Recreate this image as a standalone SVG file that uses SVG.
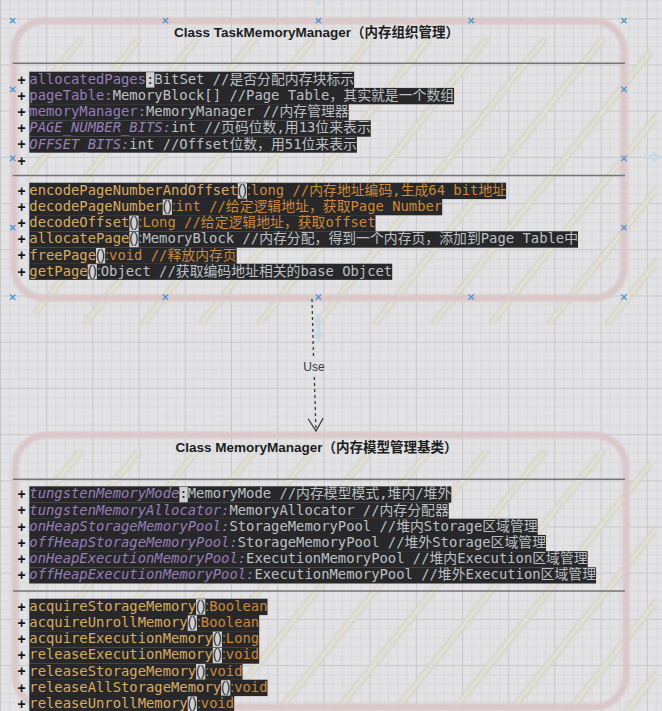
<svg xmlns="http://www.w3.org/2000/svg" width="662" height="711" viewBox="0 0 662 711">
<defs>
<style>
.code{font-family:"DejaVu Sans Mono","Noto Sans CJK SC",monospace;font-size:13.85px;white-space:pre}
.pc{font-family:"Liberation Sans",Arial,sans-serif}
.f{fill:#947fb8}
.fi{fill:#947fb8;font-style:italic}
.t{fill:#bcc0c4}
.m{fill:#d9ab62}
.r{fill:#cc893b}
.d{fill:#2a2a2a}
.bg{fill:#28282a}
.hl{fill:#d0d0d2}
.plus{font-family:"Liberation Sans",Arial,sans-serif;font-size:14px;font-weight:bold;fill:#151515;text-anchor:middle}
.title{font-family:"Liberation Sans",Arial,"Noto Sans CJK SC",sans-serif;font-size:13.5px;font-weight:bold;fill:#1c1c1c;text-anchor:middle}
.sep{stroke:#767678;stroke-width:1.5;fill:none}
.border{fill:none;stroke:#dbc8c9;stroke-width:7}
.hatchO{fill:none;stroke:#d1cec6;stroke-width:6.5;stroke-linecap:round}
.hatchI{fill:none;stroke:#e7e5d6;stroke-width:3.2;stroke-linecap:round}
.handle{fill:none;stroke:#4f97d2;stroke-width:1.4}
.hint{fill:#c9d9e6}
.edge{fill:none;stroke:#3a3a3a;stroke-width:1.3;stroke-dasharray:3 3}
.lbl{font-family:"Liberation Sans",Arial,sans-serif;font-size:12px;fill:#3a3a3a;text-anchor:middle}
</style>
<pattern id="grid" width="46.2" height="46.2" patternUnits="userSpaceOnUse" x="0" y="18.3">
<path d="M9.74 0V46.2M18.98 0V46.2M28.22 0V46.2M37.46 0V46.2M0 9.74H46.2M0 18.98H46.2M0 28.22H46.2M0 37.46H46.2" stroke="#d7d7da" stroke-width="1"/>
<path d="M0.5 0V46.2M0 0.5H46.2" stroke="#c7c7cb" stroke-width="1"/>
</pattern>
<clipPath id="clipTop"><rect x="28" y="38" width="628" height="286" rx="28"/></clipPath>
<clipPath id="clipBot"><rect x="28" y="450" width="628" height="300" rx="28"/></clipPath>
<filter id="soft" x="-5%" y="-5%" width="110%" height="110%"><feGaussianBlur stdDeviation="0.9"/></filter>
<path id="xm" d="M-2.6 -2.6L2.6 2.6M-2.6 2.6L2.6 -2.6"/>
<marker id="openArrow" markerUnits="userSpaceOnUse" markerWidth="16" markerHeight="17" refX="13" refY="8" orient="auto">
<path d="M0.5 0.5L13 8L0.5 15.5" fill="none" stroke="#3a3a3a" stroke-width="1.3"/>
</marker>
</defs>

<rect width="662" height="711" fill="#e3e3e5"/>
<rect width="662" height="711" fill="url(#grid)"/>

<g id="node-taskmemorymanager">
<g filter="url(#soft)">
<g clip-path="url(#clipTop)">
<path class="hatchO" d="M80 40L-145.6 322M138 40L-87.6 322M196 40L-29.6 322M254 40L28.4 322M312 40L86.4 322M370 40L144.4 322M428 40L202.4 322M486 40L260.4 322M544 40L318.4 322M602 40L376.4 322M660 40L434.4 322M718 40L492.4 322M776 40L550.4 322M834 40L608.4 322"/>
<path class="hatchI" d="M80 40L-145.6 322M138 40L-87.6 322M196 40L-29.6 322M254 40L28.4 322M312 40L86.4 322M370 40L144.4 322M428 40L202.4 322M486 40L260.4 322M544 40L318.4 322M602 40L376.4 322M660 40L434.4 322M718 40L492.4 322M776 40L550.4 322M834 40L608.4 322"/>
</g>
<rect class="border" x="14" y="21" width="610" height="277" rx="30"/>
</g>
<text class="title" x="316.5" y="37.3">Class TaskMemoryManager（内存组织管理）</text>
<path class="sep" d="M12.7 63.3H625M12.7 175.5H625"/>

<rect class="bg" x="29.3" y="71.7" width="324.8" height="16.4"/>
<rect class="bg" x="29.3" y="87.9" width="424.8" height="16.4"/>
<rect class="bg" x="29.3" y="104.1" width="319.4" height="16.4"/>
<rect class="bg" x="29.3" y="120.3" width="341.45" height="16.4"/>
<rect class="bg" x="29.3" y="136.5" width="327.6" height="16.2"/>
<rect class="hl" x="146.04" y="72.2" width="8.34" height="15.4"/>
<text class="code" x="29.3" y="83.8" textLength="324.8" lengthAdjust="spacing"><tspan class="f">allocatedPages</tspan><tspan class="d">:</tspan><tspan class="t">BitSet //是否分配内存块标示</tspan></text>
<text class="code" x="29.3" y="100.0" textLength="424.8" lengthAdjust="spacing"><tspan class="f">pageTable:</tspan><tspan class="t">MemoryBlock[] //Page Table，其实就是一个数组</tspan></text>
<text class="code" x="29.3" y="116.2" textLength="319.4" lengthAdjust="spacing"><tspan class="f">memoryManager:</tspan><tspan class="t">MemoryManager //内存管理器</tspan></text>
<text class="code" x="29.3" y="132.4" textLength="341.45" lengthAdjust="spacing"><tspan class="fi">PAGE_NUMBER_BITS:</tspan><tspan class="t">int //页码位数,用13位来表示</tspan></text>
<text class="code" x="29.3" y="148.6" textLength="327.6" lengthAdjust="spacing"><tspan class="fi">OFFSET_BITS:</tspan><tspan class="t">int //Offset位数，用51位来表示</tspan></text>
<text class="plus" x="21.7" y="84.6">+</text>
<text class="plus" x="21.7" y="100.8">+</text>
<text class="plus" x="21.7" y="117.0">+</text>
<text class="plus" x="21.7" y="133.2">+</text>
<text class="plus" x="21.7" y="149.4">+</text>
<text class="plus" x="21.7" y="165.6">+</text>

<rect class="bg" x="29.3" y="182.7" width="476.8" height="16.4"/>
<rect class="bg" x="29.3" y="198.9" width="412.9" height="16.4"/>
<rect class="bg" x="29.3" y="215.1" width="346.2" height="16.4"/>
<rect class="bg" x="29.3" y="231.3" width="548.7" height="16.4"/>
<rect class="bg" x="29.3" y="247.5" width="207.4" height="16.4"/>
<rect class="bg" x="29.3" y="263.7" width="362.9" height="16.2"/>
<rect class="hl" x="237.76" y="183.2" width="9.22" height="15.4"/>
<rect class="hl" x="162.71" y="199.4" width="9.22" height="15.4"/>
<rect class="hl" x="129.36" y="215.6" width="9.22" height="15.4"/>
<rect class="hl" x="129.36" y="231.8" width="9.22" height="15.4"/>
<rect class="hl" x="95.97" y="248.0" width="9.22" height="15.4"/>
<rect class="hl" x="87.67" y="264.2" width="9.22" height="15.2"/>
<text class="code" x="29.3" y="194.8" textLength="476.8" lengthAdjust="spacing"><tspan class="m">encodePageNumberAndOffset</tspan><tspan class="pc d">()</tspan><tspan class="pc r">:</tspan><tspan class="r">long //内存地址编码,生成64 bit地址</tspan></text>
<text class="code" x="29.3" y="211.0" textLength="412.9" lengthAdjust="spacing"><tspan class="m">decodePageNumber</tspan><tspan class="pc d">()</tspan><tspan class="pc r">:</tspan><tspan class="r">int //给定逻辑地址，获取Page Number</tspan></text>
<text class="code" x="29.3" y="227.2" textLength="346.2" lengthAdjust="spacing"><tspan class="m">decodeOffset</tspan><tspan class="pc d">()</tspan><tspan class="pc r">:</tspan><tspan class="r">Long //给定逻辑地址，获取offset</tspan></text>
<text class="code" x="29.3" y="243.4" textLength="548.7" lengthAdjust="spacing"><tspan class="m">allocatePage</tspan><tspan class="pc d">()</tspan><tspan class="pc t">:</tspan><tspan class="t">MemoryBlock //内存分配，得到一个内存页，添加到Page Table中</tspan></text>
<text class="code" x="29.3" y="259.6" textLength="207.4" lengthAdjust="spacing"><tspan class="m">freePage</tspan><tspan class="pc d">()</tspan><tspan class="pc r">:</tspan><tspan class="r">void //释放内存页</tspan></text>
<text class="code" x="29.3" y="275.8" textLength="362.9" lengthAdjust="spacing"><tspan class="m">getPage</tspan><tspan class="pc d">()</tspan><tspan class="pc t">:</tspan><tspan class="t">Object //获取编码地址相关的base Objcet</tspan></text>
<text class="plus" x="21.7" y="195.6">+</text>
<text class="plus" x="21.7" y="211.8">+</text>
<text class="plus" x="21.7" y="228.0">+</text>
<text class="plus" x="21.7" y="244.2">+</text>
<text class="plus" x="21.7" y="260.4">+</text>
<text class="plus" x="21.7" y="276.6">+</text>
</g>

<g id="node-memorymanager">
<g filter="url(#soft)">
<g clip-path="url(#clipBot)">
<path class="hatchO" d="M80 452L-150.4 740M138 452L-92.4 740M196 452L-34.4 740M254 452L23.6 740M312 452L81.6 740M370 452L139.6 740M428 452L197.6 740M486 452L255.6 740M544 452L313.6 740M602 452L371.6 740M660 452L429.6 740M718 452L487.6 740M776 452L545.6 740M834 452L603.6 740"/>
<path class="hatchI" d="M80 452L-150.4 740M138 452L-92.4 740M196 452L-34.4 740M254 452L23.6 740M312 452L81.6 740M370 452L139.6 740M428 452L197.6 740M486 452L255.6 740M544 452L313.6 740M602 452L371.6 740M660 452L429.6 740M718 452L487.6 740M776 452L545.6 740M834 452L603.6 740"/>
</g>
<rect class="border" x="15" y="435" width="611" height="272" rx="32"/>
</g>
<text class="title" x="316.5" y="452.3">Class MemoryManager（内存模型管理基类）</text>
<path class="sep" d="M13 479.3H625M13 591H625"/>

<rect class="bg" x="29.3" y="486.3" width="422.0" height="16.4"/>
<rect class="bg" x="29.3" y="502.5" width="419.46" height="16.4"/>
<rect class="bg" x="29.3" y="518.7" width="508.36" height="16.4"/>
<rect class="bg" x="29.3" y="534.9" width="516.7" height="16.4"/>
<rect class="bg" x="29.3" y="551.1" width="558.39" height="16.4"/>
<rect class="bg" x="29.3" y="567.3" width="566.73" height="16.2"/>
<rect class="hl" x="179.39" y="486.8" width="8.34" height="15.4"/>
<text class="code" x="29.3" y="498.4" textLength="422.0" lengthAdjust="spacing"><tspan class="fi">tungstenMemoryMode</tspan><tspan class="d">:</tspan><tspan class="t">MemoryMode //内存模型模式,堆内/堆外</tspan></text>
<text class="code" x="29.3" y="514.6" textLength="419.46" lengthAdjust="spacing"><tspan class="fi">tungstenMemoryAllocator:</tspan><tspan class="t">MemoryAllocator //内存分配器</tspan></text>
<text class="code" x="29.3" y="530.8" textLength="508.36" lengthAdjust="spacing"><tspan class="fi">onHeapStorageMemoryPool:</tspan><tspan class="t">StorageMemoryPool //堆内Storage区域管理</tspan></text>
<text class="code" x="29.3" y="547.0" textLength="516.7" lengthAdjust="spacing"><tspan class="fi">offHeapStorageMemoryPool:</tspan><tspan class="t">StorageMemoryPool //堆外Storage区域管理</tspan></text>
<text class="code" x="29.3" y="563.2" textLength="558.39" lengthAdjust="spacing"><tspan class="fi">onHeapExecutionMemoryPool:</tspan><tspan class="t">ExecutionMemoryPool //堆内Execution区域管理</tspan></text>
<text class="code" x="29.3" y="579.4" textLength="566.73" lengthAdjust="spacing"><tspan class="fi">offHeapExecutionMemoryPool:</tspan><tspan class="t">ExecutionMemoryPool //堆外Execution区域管理</tspan></text>
<text class="plus" x="21.7" y="499.2">+</text>
<text class="plus" x="21.7" y="515.4">+</text>
<text class="plus" x="21.7" y="531.6">+</text>
<text class="plus" x="21.7" y="547.8">+</text>
<text class="plus" x="21.7" y="564.0">+</text>
<text class="plus" x="21.7" y="580.2">+</text>

<rect class="bg" x="29.3" y="598.7" width="238.2" height="16.4"/>
<rect class="bg" x="29.3" y="614.9" width="229.87" height="16.4"/>
<rect class="bg" x="29.3" y="631.1" width="229.87" height="16.4"/>
<rect class="bg" x="29.3" y="647.3" width="229.87" height="16.4"/>
<rect class="bg" x="29.3" y="663.5" width="213.2" height="16.4"/>
<rect class="bg" x="29.3" y="679.7" width="238.2" height="16.4"/>
<rect class="bg" x="29.3" y="695.9" width="204.85" height="16.4"/>
<rect class="hl" x="196.07" y="599.2" width="9.22" height="15.4"/>
<rect class="hl" x="187.73" y="615.4" width="9.22" height="15.4"/>
<rect class="hl" x="212.75" y="631.6" width="9.22" height="15.4"/>
<rect class="hl" x="212.75" y="647.8" width="9.22" height="15.4"/>
<rect class="hl" x="196.07" y="664.0" width="9.22" height="15.4"/>
<rect class="hl" x="221.08" y="680.2" width="9.22" height="15.4"/>
<rect class="hl" x="187.73" y="696.4" width="9.22" height="15.4"/>
<text class="code" x="29.3" y="610.8" textLength="238.2" lengthAdjust="spacing"><tspan class="m">acquireStorageMemory</tspan><tspan class="pc d">()</tspan><tspan class="pc r">:</tspan><tspan class="r">Boolean</tspan></text>
<text class="code" x="29.3" y="627.0" textLength="229.87" lengthAdjust="spacing"><tspan class="m">acquireUnrollMemory</tspan><tspan class="pc d">()</tspan><tspan class="pc r">:</tspan><tspan class="r">Boolean</tspan></text>
<text class="code" x="29.3" y="643.2" textLength="229.87" lengthAdjust="spacing"><tspan class="m">acquireExecutionMemory</tspan><tspan class="pc d">()</tspan><tspan class="pc r">:</tspan><tspan class="r">Long</tspan></text>
<text class="code" x="29.3" y="659.4" textLength="229.87" lengthAdjust="spacing"><tspan class="m">releaseExecutionMemory</tspan><tspan class="pc d">()</tspan><tspan class="pc r">:</tspan><tspan class="r">void</tspan></text>
<text class="code" x="29.3" y="675.6" textLength="213.2" lengthAdjust="spacing"><tspan class="m">releaseStorageMemory</tspan><tspan class="pc d">()</tspan><tspan class="pc r">:</tspan><tspan class="r">void</tspan></text>
<text class="code" x="29.3" y="691.8" textLength="238.2" lengthAdjust="spacing"><tspan class="m">releaseAllStorageMemory</tspan><tspan class="pc d">()</tspan><tspan class="pc r">:</tspan><tspan class="r">void</tspan></text>
<text class="code" x="29.3" y="708.0" textLength="204.85" lengthAdjust="spacing"><tspan class="m">releaseUnrollMemory</tspan><tspan class="pc d">()</tspan><tspan class="pc r">:</tspan><tspan class="r">void</tspan></text>
<text class="plus" x="21.7" y="611.6">+</text>
<text class="plus" x="21.7" y="627.8">+</text>
<text class="plus" x="21.7" y="644.0">+</text>
<text class="plus" x="21.7" y="660.2">+</text>
<text class="plus" x="21.7" y="676.4">+</text>
<text class="plus" x="21.7" y="692.6">+</text>
<text class="plus" x="21.7" y="708.8">+</text>
</g>

<g id="connectors">
<path class="edge" d="M312 299L313.5 357"/>
<path class="edge" d="M314.3 377L316 431" marker-end="url(#openArrow)"/>
<text class="lbl" x="314" y="371.3">Use</text>
</g>

<g id="selection-handles">
<path class="hint" d="M316.5 0H320.5V4H316.5Z"/>
<path class="hint" d="M316.5 314H320.5V332H324L318.5 342L313 332H316.5Z"/>
<path class="hint" d="M644 155H652V151L662 157L652 163V159H644Z"/>
<g class="handle">
<use href="#xm" x="12.7" y="20.7"/><use href="#xm" x="165.5" y="20.7"/><use href="#xm" x="318.4" y="20.7"/><use href="#xm" x="471.2" y="20.7"/><use href="#xm" x="624" y="20.7"/>
<use href="#xm" x="12.7" y="89.3"/><use href="#xm" x="624" y="89.3"/>
<use href="#xm" x="12.7" y="158.3"/><use href="#xm" x="624" y="158.3"/>
<use href="#xm" x="12.7" y="227.6"/><use href="#xm" x="624" y="227.6"/>
<use href="#xm" x="12.7" y="297.1"/><use href="#xm" x="165.5" y="297.1"/><use href="#xm" x="318.4" y="297.1"/><use href="#xm" x="471.2" y="297.1"/><use href="#xm" x="624" y="297.1"/>
</g>
</g>
</svg>
